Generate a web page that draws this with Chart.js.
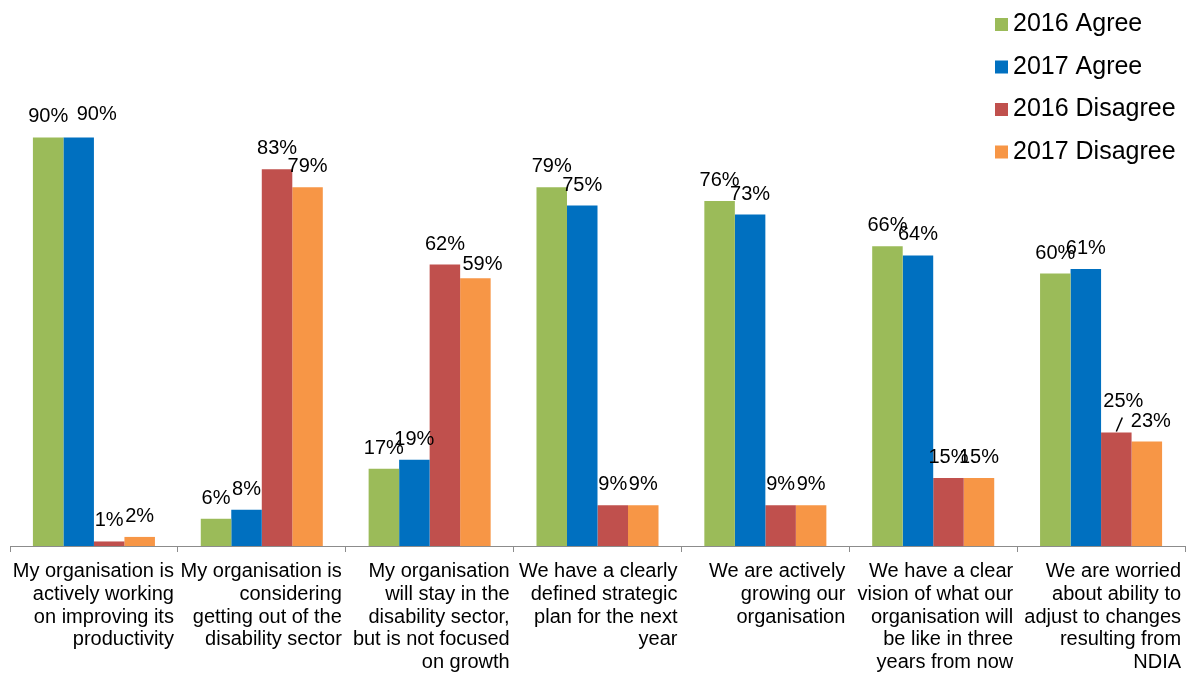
<!DOCTYPE html>
<html>
<head>
<meta charset="utf-8">
<script src="https://cdn.jsdelivr.net/npm/chart.js@4"></script>
<style>
  body { margin: 0; background: #fff; }
  #wrap { width: 1187px; height: 673px; }
</style>
</head>
<body>
<div id="wrap"><canvas id="grafik"></canvas></div>
<script>
// pernyataan survei (dipecah per baris)
const kategori = [
  ["My organisation is", "actively working", "on improving its", "productivity"],
  ["My organisation is", "considering", "getting out of the", "disability sector"],
  ["My organisation", "will stay in the", "disability sector,", "but is not focused", "on growth"],
  ["We have a clearly", "defined strategic", "plan for the next", "year"],
  ["We are actively", "growing our", "organisation"],
  ["We have a clear", "vision of what our", "organisation will", "be like in three", "years from now"],
  ["We are worried", "about ability to", "adjust to changes", "resulting from", "NDIA"]
];

const agree2016 = [90, 6, 17, 79, 76, 66, 60];
const agree2017 = [90, 8, 19, 75, 73, 64, 61];
const disagree2016 = [1, 83, 62, 9, 9, 15, 25];
const disagree2017 = [2, 79, 59, 9, 9, 15, 23];

const namaSeri = ["2016 Agree", "2017 Agree", "2016 Disagree", "2017 Disagree"];
const warnaSeri = ["#9BBB59", "#0070C0", "#C0504D", "#F79646"];

const FONT = '"Liberation Sans", Arial, sans-serif';
Chart.defaults.font.family = FONT;

// label yang digeser manual: "dataset-index": [dx, dy]
const geserLabel = {
  "1-0": [18, -2],
  "3-2": [7, 7],
  "2-6": [7, -11],
  "3-6": [4, 0]
};

// label angka di atas batang
const labelNilai = {
  id: 'labelNilai',
  afterDatasetsDraw(chart) {
    const ctx = chart.ctx;
    ctx.save();
    ctx.font = '20px ' + FONT;
    ctx.fillStyle = '#000';
    ctx.textAlign = 'center';
    ctx.textBaseline = 'alphabetic';
    chart.data.datasets.forEach((ds, i) => {
      chart.getDatasetMeta(i).data.forEach((bar, j) => {
        const g = geserLabel[i + '-' + j] || [0, 0];
        ctx.fillText(ds.data[j] + '%', bar.x + g[0], bar.y - 15 + g[1]);
      });
    });
    // garis penunjuk ke label 25%
    const b = chart.getDatasetMeta(2).data[6];
    ctx.strokeStyle = '#000';
    ctx.lineWidth = 1.5;
    ctx.beginPath();
    ctx.moveTo(b.x, b.y - 1);
    ctx.lineTo(b.x + 6, b.y - 15);
    ctx.stroke();
    ctx.restore();
  }
};

// legenda vertikal di pojok kanan atas
const legendaKanan = {
  id: 'legendaKanan',
  afterDraw(chart) {
    const ctx = chart.ctx;
    ctx.save();
    ctx.font = '25px ' + FONT;
    ctx.textBaseline = 'middle';
    ctx.textAlign = 'left';
    chart.data.datasets.forEach((ds, i) => {
      const y = 24.5 + i * 42.5;
      ctx.fillStyle = ds.backgroundColor;
      ctx.fillRect(995, y - 6.5, 13, 13);
      ctx.fillStyle = '#000';
      ctx.fillText(ds.label, 1013, y);
    });
    ctx.restore();
  }
};

const seri = [agree2016, agree2017, disagree2016, disagree2017];

new Chart(document.getElementById('grafik'), {
  type: 'bar',
  data: {
    labels: kategori,
    datasets: seri.map((data, i) => ({
      label: namaSeri[i],
      data: data,
      backgroundColor: warnaSeri[i],
      borderWidth: 0,
      categoryPercentage: 0.727,
      barPercentage: 1.0
    }))
  },
  options: {
    responsive: true,
    maintainAspectRatio: false,
    animation: false,
    layout: { padding: { left: 10, right: 2, top: 92, bottom: 0 } },
    plugins: {
      legend: { display: false },
      tooltip: { enabled: false }
    },
    scales: {
      x: {
        grid: { drawOnChartArea: false, drawTicks: true, tickLength: 6, color: '#8c8c8c', offset: true },
        border: { color: '#8c8c8c', width: 1 },
        ticks: {
          align: 'end',
          labelOffset: 80,
          padding: 8,
          color: '#000',
          autoSkip: false,
          maxRotation: 0,
          font: { size: 20, lineHeight: 1.14 }
        },
        afterFit(scale) {
          scale.height = 127;
          scale.paddingLeft = 0;
          scale.paddingRight = 0;
        }
      },
      y: { display: false, min: 0, max: 100 }
    }
  },
  plugins: [labelNilai, legendaKanan]
});
</script>
</body>
</html>
